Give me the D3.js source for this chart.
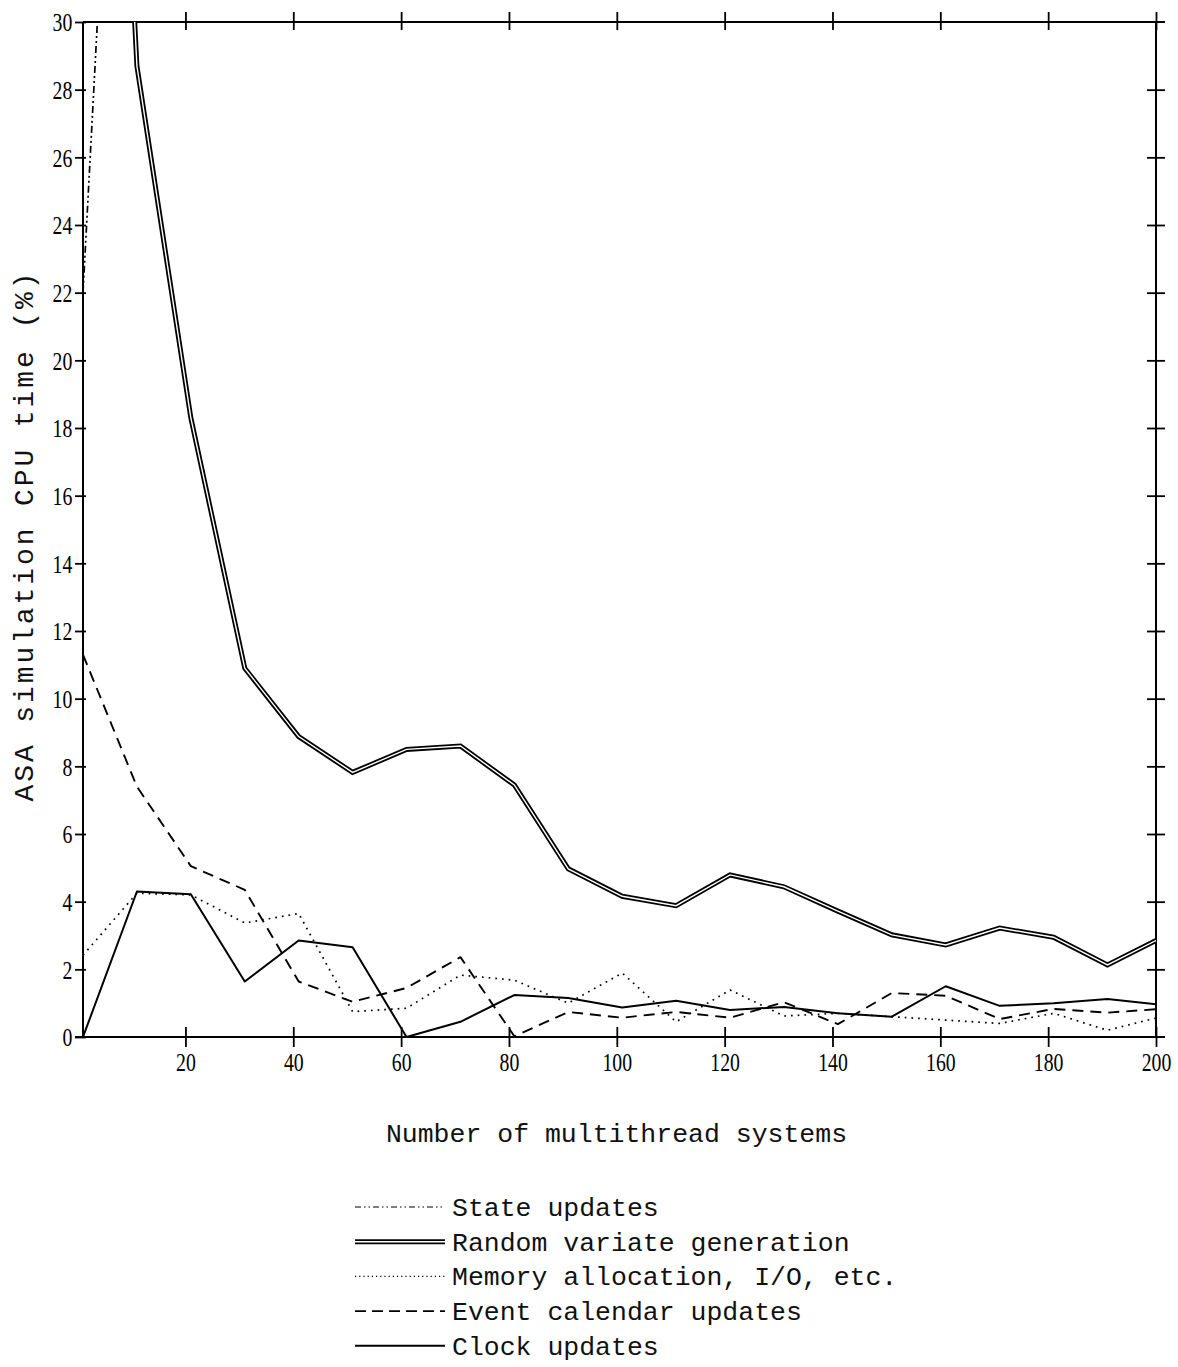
<!DOCTYPE html>
<html>
<head>
<meta charset="utf-8">
<script src="https://cdn.jsdelivr.net/npm/d3@7"></script>
<style>
  html, body { margin: 0; padding: 0; background: #fff; }
  svg { display: block; }
</style>
</head>
<body>
<svg id="chart" width="1178" height="1367"></svg>
<script>
// Number of multithread systems at which the profile was sampled
const systems = [1, 11, 21, 31, 41, 51, 61, 71, 81, 91, 101, 111, 121, 131, 141, 151, 161, 171, 181, 191, 200];

// Share of ASA simulation CPU time (%) per activity; null = not sampled / off scale
const stateUpdates   = [22, 52, null, null, null, null, null, null, null, null, null, null, null, null, null, null, null, null, null, null, null];
const randomVariates = [60, 28.7, 18.3, 10.9, 8.88, 7.82, 8.5, 8.6, 7.45, 4.97, 4.16, 3.88, 4.79, 4.44, 3.72, 3.02, 2.72, 3.22, 2.95, 2.13, 2.85];
const memoryIO       = [2.42, 4.25, 4.2, 3.37, 3.65, 0.75, 0.85, 1.83, 1.68, 1.0, 1.89, 0.45, 1.39, 0.62, 0.7, 0.6, 0.5, 0.4, 0.7, 0.2, 0.56];
const eventCalendar  = [11.3, 7.4, 5.05, 4.35, 1.64, 1.04, 1.45, 2.36, 0.02, 0.74, 0.57, 0.74, 0.57, 1.03, 0.38, 1.3, 1.22, 0.53, 0.83, 0.72, 0.82];
const clockUpdates   = [0, 4.3, 4.22, 1.64, 2.85, 2.65, 0, 0.45, 1.24, 1.15, 0.87, 1.07, 0.8, 0.89, 0.7, 0.6, 1.5, 0.92, 1.0, 1.12, 0.97];

const xTicks = [20, 40, 60, 80, 100, 120, 140, 160, 180, 200];
const yTicks = [0, 2, 4, 6, 8, 10, 12, 14, 16, 18, 20, 22, 24, 26, 28, 30];

const seriesNames = ["State updates", "Random variate generation", "Memory allocation, I/O, etc.", "Event calendar updates", "Clock updates"];
const seriesStyles = ["dashdot", "double", "dotted", "dashed", "solid"];
const seriesValues = [stateUpdates, randomVariates, memoryIO, eventCalendar, clockUpdates];

const svg = d3.select("#chart");
const plotLeft = 83, plotRight = 1156, plotTop = 22, plotBottom = 1037;

const x = d3.scaleLinear().domain([1, 200]).range([plotLeft, plotRight]);
const y = d3.scaleLinear().domain([0, 30]).range([plotBottom, plotTop]);

const tickFont = "'Liberation Serif', 'Times New Roman', serif";
const monoFont = "'Liberation Mono', 'Courier New', monospace";

// clip so off-scale values run out of the frame
svg.append("defs").append("clipPath").attr("id", "plotClip")
  .append("rect").attr("x", plotLeft).attr("y", plotTop)
  .attr("width", plotRight - plotLeft).attr("height", plotBottom - plotTop);

function styleAxis(g) {
  g.select(".domain").remove();
  g.selectAll(".tick line").attr("stroke", "#000").attr("stroke-width", 1.8);
  g.selectAll(".tick text")
    .attr("fill", "#000")
    .style("font-family", tickFont)
    .style("font-size", "26px");
}

// left axis with labels
const gLeft = svg.append("g").attr("transform", `translate(${plotLeft},0)`)
  .call(d3.axisLeft(y).tickValues(yTicks).tickSize(8).tickSizeOuter(0).tickPadding(6).tickFormat(d3.format("d")));
styleAxis(gLeft);
gLeft.selectAll(".tick line").attr("x2", -8).attr("x1", 3);
gLeft.selectAll(".tick text").attr("transform", "scale(0.76,1)").attr("dy", "0.34em");

// bottom axis with labels
const gBottom = svg.append("g").attr("transform", `translate(0,${plotBottom})`)
  .call(d3.axisBottom(x).tickValues(xTicks).tickSize(10).tickSizeOuter(0).tickPadding(6).tickFormat(d3.format("d")));
styleAxis(gBottom);
gBottom.selectAll(".tick line").attr("y1", -10);
gBottom.selectAll(".tick text").attr("transform", "scale(0.76,1)");

// top axis, ticks only
const gTop = svg.append("g").attr("transform", `translate(0,${plotTop})`)
  .call(d3.axisTop(x).tickValues(xTicks).tickSize(10).tickSizeOuter(0).tickFormat(""));
styleAxis(gTop);
gTop.selectAll(".tick line").attr("y1", 8);

// right axis, ticks only
const gRight = svg.append("g").attr("transform", `translate(${plotRight},0)`)
  .call(d3.axisRight(y).tickValues(yTicks.filter(v => v > 0 && v < 30)).tickSize(9).tickSizeOuter(0).tickFormat(""));
styleAxis(gRight);
gRight.selectAll(".tick line").attr("x1", -9);

// frame
const frame = svg.append("g").attr("stroke", "#000").attr("stroke-width", 2).attr("fill", "none");
frame.append("line").attr("x1", plotLeft).attr("x2", plotLeft).attr("y1", y(30)).attr("y2", y(0));
frame.append("line").attr("x1", plotLeft - 8).attr("x2", plotRight + 9).attr("y1", y(0)).attr("y2", y(0));
frame.append("line").attr("x1", plotLeft).attr("x2", plotRight + 9).attr("y1", y(30)).attr("y2", y(30));
frame.append("line").attr("x1", plotRight).attr("x2", plotRight).attr("y1", y(30)).attr("y2", y(0));

// line styling helpers
function applyStyle(sel, style) {
  sel.attr("fill", "none").attr("stroke", "#000").attr("stroke-linejoin", "round");
  if (style === "solid") sel.attr("stroke-width", 2);
  if (style === "dashed") sel.attr("stroke-width", 1.9).attr("stroke-dasharray", "11,7");
  if (style === "dotted") sel.attr("stroke-width", 1.7).attr("stroke-dasharray", "1.7,5");
  if (style === "dashdot") sel.attr("stroke-width", 1.7).attr("stroke-dasharray", "7,3,2,3,2,3");
}

const line = d3.line()
  .defined(d => d[1] != null)
  .x(d => x(d[0]))
  .y(d => y(d[1]));

const plot = svg.append("g").attr("clip-path", "url(#plotClip)");

seriesValues.forEach((vals, i) => {
  const pts = systems.map((s, j) => [s, vals[j]]);
  const style = seriesStyles[i];
  if (style === "double") {
    plot.append("path").datum(pts).attr("d", line)
      .attr("fill", "none").attr("stroke", "#000").attr("stroke-width", 5).attr("stroke-linejoin", "miter");
    plot.append("path").datum(pts).attr("d", line)
      .attr("fill", "none").attr("stroke", "#fff").attr("stroke-width", 1.4).attr("stroke-linejoin", "miter");
  } else {
    applyStyle(plot.append("path").datum(pts).attr("d", line), style);
  }
});

// axis titles
svg.append("text")
  .attr("x", (plotLeft + plotRight) / 2 - 3).attr("y", 1142)
  .attr("text-anchor", "middle")
  .style("font-family", monoFont).style("font-size", "26.5px")
  .attr("fill", "#111")
  .text("Number of multithread systems");

svg.append("text")
  .attr("transform", `translate(33,${(plotTop + plotBottom) / 2 + 6}) rotate(-90)`)
  .attr("text-anchor", "middle")
  .style("font-family", monoFont).style("font-size", "28px").style("letter-spacing", "2.9px")
  .attr("fill", "#111")
  .text("ASA simulation CPU time (%)");

// legend
const legend = svg.append("g").attr("transform", "translate(355,1207)");
seriesNames.forEach((name, i) => {
  const row = legend.append("g").attr("transform", `translate(0,${i * 34.7})`);
  const style = seriesStyles[i];
  if (style === "double") {
    row.append("line").attr("x1", 0).attr("x2", 90).attr("y1", 0).attr("y2", 0)
      .attr("stroke", "#000").attr("stroke-width", 5);
    row.append("line").attr("x1", 0).attr("x2", 90).attr("y1", 0).attr("y2", 0)
      .attr("stroke", "#fff").attr("stroke-width", 1.4);
  } else {
    const l = row.append("line").attr("x1", 0).attr("x2", 90).attr("y1", 0).attr("y2", 0);
    applyStyle(l, style);
    if (style === "dashed") l.attr("stroke-dasharray", "11,6");
    if (style === "dotted") l.attr("stroke-width", 1.2).attr("stroke-dasharray", "1.2,3");
    if (style === "dashdot") l.attr("stroke-width", 1.2).attr("stroke-dasharray", "6,3,1.5,3,1.5,3");
  }
  row.append("text").attr("x", 97).attr("y", 9)
    .style("font-family", monoFont).style("font-size", "26.5px")
    .attr("fill", "#111")
    .text(name);
});
</script>
</body>
</html>
